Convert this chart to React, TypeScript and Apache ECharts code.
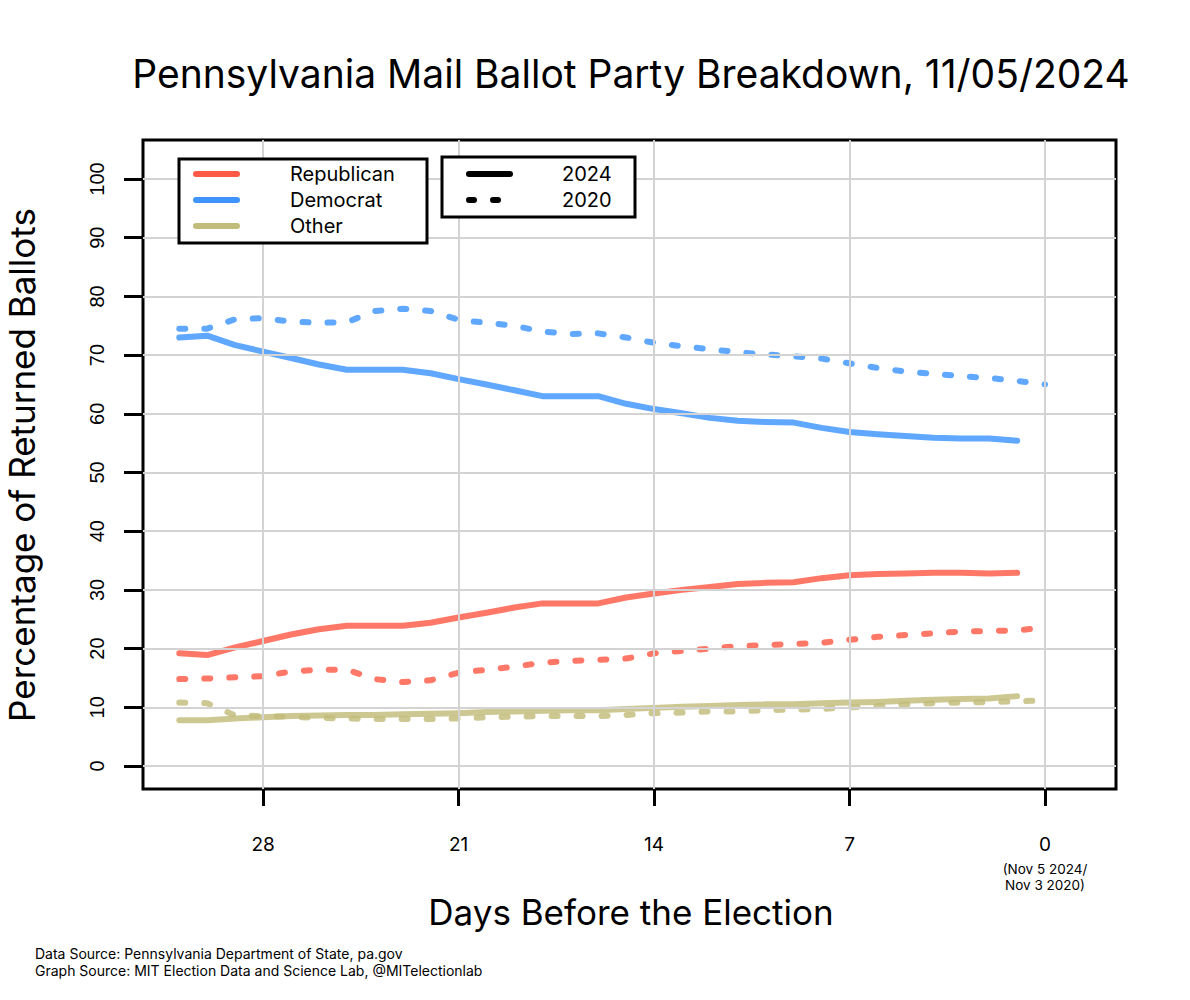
import React, { useEffect, useRef } from "react";
import * as echarts from "echarts";

const days2024 = [31, 30, 29, 28, 27, 26, 25, 24, 23, 22, 21, 20, 19, 18, 17, 16, 15, 14, 13, 12, 11, 10, 9, 8, 7, 6, 5, 4, 3, 2, 1];
const days2020 = [31, 30, 29, 28, 27, 26, 25, 24, 23, 22, 21, 20, 19, 18, 17, 16, 15, 14, 13, 12, 11, 10, 9, 8, 7, 6, 5, 4, 3, 2, 1, 0];

const dem2024 = [73.0, 73.3, 71.7, 70.6, 69.5, 68.4, 67.5, 67.5, 67.5, 66.9, 65.9, 65.0, 64.0, 63.0, 63.0, 63.0, 61.7, 60.8, 60.1, 59.3, 58.8, 58.6, 58.5, 57.6, 56.9, 56.5, 56.2, 55.9, 55.8, 55.8, 55.4];
const rep2024 = [19.2, 18.9, 20.2, 21.3, 22.4, 23.3, 23.9, 23.9, 23.9, 24.4, 25.3, 26.1, 27.0, 27.7, 27.7, 27.7, 28.7, 29.4, 30.0, 30.5, 31.0, 31.2, 31.3, 32.0, 32.5, 32.7, 32.8, 32.9, 32.9, 32.8, 32.9];
const oth2024 = [7.8, 7.8, 8.1, 8.3, 8.5, 8.6, 8.7, 8.7, 8.8, 8.9, 9.0, 9.2, 9.3, 9.4, 9.5, 9.5, 9.7, 9.9, 10.1, 10.2, 10.4, 10.5, 10.5, 10.7, 10.8, 10.9, 11.1, 11.3, 11.4, 11.5, 11.9];

const dem2020 = [74.5, 74.5, 76.1, 76.3, 75.7, 75.5, 75.6, 77.5, 77.9, 77.5, 76.0, 75.5, 75.0, 74.0, 73.6, 73.7, 73.0, 72.1, 71.5, 71.0, 70.5, 70.1, 69.8, 69.4, 68.6, 67.8, 67.2, 66.8, 66.4, 66.1, 65.6, 65.0];
const rep2020 = [14.8, 14.9, 15.1, 15.3, 16.1, 16.4, 16.4, 14.8, 14.3, 14.6, 15.9, 16.4, 16.9, 17.6, 17.9, 18.1, 18.3, 19.2, 19.6, 20.0, 20.4, 20.6, 20.8, 21.0, 21.5, 22.0, 22.3, 22.6, 22.9, 23.0, 23.1, 23.6];
const oth2020 = [10.8, 10.7, 8.6, 8.5, 8.4, 8.2, 8.1, 8.0, 8.0, 8.0, 8.1, 8.3, 8.4, 8.5, 8.5, 8.5, 8.7, 9.0, 9.1, 9.3, 9.3, 9.5, 9.6, 9.7, 10.0, 10.2, 10.5, 10.7, 10.8, 10.9, 11.0, 11.2];

const xTicks = [28, 21, 14, 7, 0];
const yTicks = [0, 10, 20, 30, 40, 50, 60, 70, 80, 90, 100];

const partyNames = ["Republican", "Democrat", "Other"];
const yearNames = ["2024", "2020"];
const zeroNote = ["(Nov 5 2024/", "Nov 3 2020)"];

const RED = "#FF5A45";
const BLUE = "#3D94FF";
const KHAKI = "#C2BC7A";
const FONT = "Inter, 'Noto Sans', sans-serif";

function pairs(xs: number[], ys: number[]) {
  return xs.map((x, i) => [x, ys[i]]);
}

export default function App() {
  const ref = useRef<HTMLDivElement>(null);
  useEffect(() => {
    if (!ref.current) return;
    const chart = echarts.init(ref.current, null, { renderer: "svg" });

    const solid = (color: string) => ({
      color,
      width: 6,
      opacity: 0.82,
      cap: "round" as const,
      join: "round" as const,
      type: "solid" as const,
    });
    const dashed = (color: string) => ({
      color,
      width: 6,
      opacity: 0.82,
      cap: "round" as const,
      join: "round" as const,
      type: [6, 19] as any,
    });

    const mkSeries = (name: string, xs: number[], ys: number[], ls: any) => ({
      name,
      type: "line",
      data: pairs(xs, ys),
      showSymbol: false,
      symbol: "none",
      lineStyle: ls,
      z: 3,
      silent: true,
    });

    const legendItems: any[] = [];
    legendItems.push({
      type: "rect",
      shape: { x: 179, y: 159, width: 248, height: 84 },
      style: { fill: "#fff", stroke: "#000", lineWidth: 3 },
      z: 10,
    });
    [RED, BLUE, KHAKI].forEach((c, i) => {
      legendItems.push({
        type: "line",
        shape: { x1: 196, y1: 174 + i * 26, x2: 237, y2: 174 + i * 26 },
        style: { stroke: c, lineWidth: 6, lineCap: "round" },
        z: 11,
      });
      legendItems.push({
        type: "text",
        x: 290,
        y: 174 + i * 26,
        style: {
          text: partyNames[i],
          font: `20px ${FONT}`,
          fill: "#000",
          textAlign: "left",
          textVerticalAlign: "middle",
        },
        z: 11,
      });
    });
    legendItems.push({
      type: "rect",
      shape: { x: 442, y: 157, width: 193, height: 60 },
      style: { fill: "#fff", stroke: "#000", lineWidth: 3 },
      z: 10,
    });
    legendItems.push({
      type: "line",
      shape: { x1: 469, y1: 174, x2: 510, y2: 174 },
      style: { stroke: "#000", lineWidth: 6, lineCap: "round" },
      z: 11,
    });
    legendItems.push({
      type: "line",
      shape: { x1: 469, y1: 200, x2: 499, y2: 200 },
      style: { stroke: "#000", lineWidth: 6, lineCap: "round", lineDash: [5, 19] },
      z: 11,
    });
    yearNames.forEach((t, i) => {
      legendItems.push({
        type: "text",
        x: 562,
        y: 174 + i * 26,
        style: {
          text: t,
          font: `20px ${FONT}`,
          fill: "#000",
          textAlign: "left",
          textVerticalAlign: "middle",
        },
        z: 11,
      });
    });

    const texts: any[] = [
      {
        type: "text",
        x: 631,
        y: 73,
        style: {
          text: "Pennsylvania Mail Ballot Party Breakdown, 11/05/2024",
          font: `39px ${FONT}`,
          fill: "#000",
          textAlign: "center",
          textVerticalAlign: "middle",
        },
      },
      {
        type: "text",
        x: 631,
        y: 912,
        style: {
          text: "Days Before the Election",
          font: `35px ${FONT}`,
          fill: "#000",
          textAlign: "center",
          textVerticalAlign: "middle",
        },
      },
      {
        type: "text",
        x: 22,
        y: 465,
        rotation: Math.PI / 2,
        style: {
          text: "Percentage of Returned Ballots",
          font: `35px ${FONT}`,
          fill: "#000",
          textAlign: "center",
          textVerticalAlign: "middle",
        },
      },
      ...zeroNote.map((t, i) => ({
        type: "text",
        x: 1045,
        y: 869 + i * 16,
        style: {
          text: t,
          font: `13.5px ${FONT}`,
          fill: "#000",
          textAlign: "center",
          textVerticalAlign: "middle",
        },
      })),
      {
        type: "text",
        x: 35,
        y: 953,
        style: {
          text: "Data Source: Pennsylvania Department of State, pa.gov",
          font: `14px ${FONT}`,
          fill: "#000",
          textAlign: "left",
          textVerticalAlign: "middle",
        },
      },
      {
        type: "text",
        x: 35,
        y: 970,
        style: {
          text: "Graph Source: MIT Election Data and Science Lab, @MITelectionlab",
          font: `14px ${FONT}`,
          fill: "#000",
          textAlign: "left",
          textVerticalAlign: "middle",
        },
      },
    ];

    const option: any = {
      animation: false,
      backgroundColor: "#fff",
      grid: {
        left: 143,
        top: 140,
        right: 74,
        bottom: 211,
        show: true,
        borderColor: "#000",
        borderWidth: 3,
        backgroundColor: "transparent",
        containLabel: false,
      },
      xAxis: {
        type: "value",
        position: "bottom",
        min: -2.54,
        max: 32.3,
        inverse: true,
        axisLine: { show: false, onZero: false },
        splitLine: { show: false },
        axisTick: {
          show: true,
          customValues: xTicks,
          length: 17,
          lineStyle: { color: "#000", width: 3 },
        },
        axisLabel: {
          show: true,
          customValues: xTicks,
          margin: 46,
          fontSize: 19,
          fontFamily: FONT,
          color: "#000",
        },
      },
      yAxis: {
        type: "value",
        position: "left",
        min: -3.92,
        max: 106.64,
        axisLine: { show: false, onZero: false },
        splitLine: { show: false },
        axisTick: {
          show: true,
          customValues: yTicks,
          length: 19,
          lineStyle: { color: "#000", width: 3 },
        },
        axisLabel: {
          show: true,
          customValues: yTicks,
          rotate: 90,
          margin: 36,
          fontSize: 20,
          fontFamily: "'Liberation Sans', Arial, sans-serif",
          color: "#000",
        },
      },
      series: [
        {
          name: "grid",
          type: "line",
          data: [],
          z: 1,
          silent: true,
          markLine: {
            silent: true,
            symbol: ["none", "none"],
            label: { show: false },
            lineStyle: { color: "#d3d3d3", width: 2, type: "solid" },
            emphasis: { disabled: true },
            data: [
              ...xTicks.map((v) => ({ xAxis: v })),
              ...yTicks.map((v) => ({ yAxis: v })),
            ],
          },
        },
        mkSeries("Democrat 2020", days2020, dem2020, dashed(BLUE)),
        mkSeries("Republican 2020", days2020, rep2020, dashed(RED)),
        mkSeries("Other 2020", days2020, oth2020, dashed(KHAKI)),
        mkSeries("Democrat 2024", days2024, dem2024, solid(BLUE)),
        mkSeries("Republican 2024", days2024, rep2024, solid(RED)),
        mkSeries("Other 2024", days2024, oth2024, solid(KHAKI)),
      ],
      graphic: [...legendItems, ...texts],
    };

    chart.setOption(option);
    return () => chart.dispose();
  }, []);

  return <div ref={ref} style={{ width: 1190, height: 1000, margin: -8 }} />;
}
